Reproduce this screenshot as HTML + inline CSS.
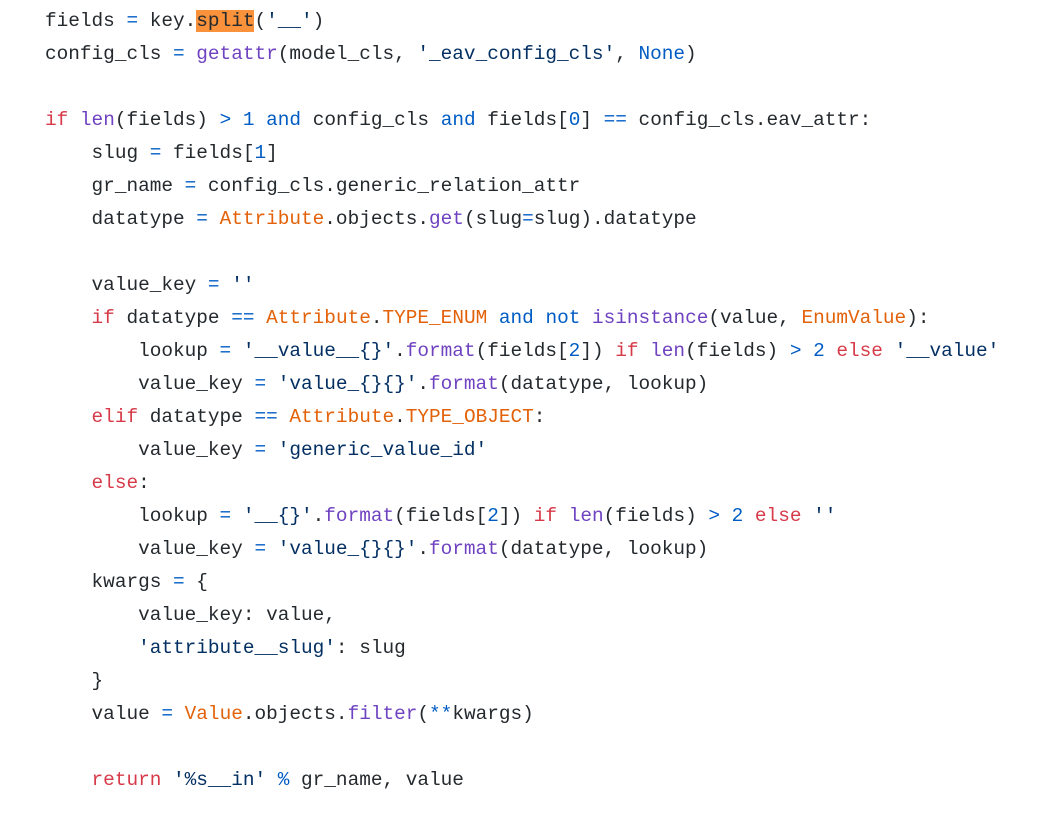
<!DOCTYPE html>
<html><head><meta charset="utf-8"><style>
html,body{margin:0;padding:0;background:#fff;width:1052px;height:817px;overflow:hidden}
pre{margin:0;position:absolute;left:45px;top:4.5px;font-family:"Liberation Mono",monospace;font-size:19.4px;line-height:33px;color:#24292e}
.k{color:#d73a49}.f{color:#6f42c1}.n{color:#005cc5}.c{color:#e36209}.s{color:#032f62}
.h{background:#f9923a;color:#24292e}
</style></head><body>
<pre>fields <span class="n">=</span> key.<span class="h">split</span>(<span class="s">'__'</span>)
config_cls <span class="n">=</span> <span class="f">getattr</span>(model_cls, <span class="s">'_eav_config_cls'</span>, <span class="n">None</span>)

<span class="k">if</span> <span class="f">len</span>(fields) <span class="n">&gt;</span> <span class="n">1</span> <span class="n">and</span> config_cls <span class="n">and</span> fields[<span class="n">0</span>] <span class="n">==</span> config_cls.eav_attr:
    slug <span class="n">=</span> fields[<span class="n">1</span>]
    gr_name <span class="n">=</span> config_cls.generic_relation_attr
    datatype <span class="n">=</span> <span class="c">Attribute</span>.objects.<span class="f">get</span>(slug<span class="n">=</span>slug).datatype

    value_key <span class="n">=</span> <span class="s">''</span>
    <span class="k">if</span> datatype <span class="n">==</span> <span class="c">Attribute</span>.<span class="c">TYPE_ENUM</span> <span class="n">and</span> <span class="n">not</span> <span class="f">isinstance</span>(value, <span class="c">EnumValue</span>):
        lookup <span class="n">=</span> <span class="s">'__value__{}'</span>.<span class="f">format</span>(fields[<span class="n">2</span>]) <span class="k">if</span> <span class="f">len</span>(fields) <span class="n">&gt;</span> <span class="n">2</span> <span class="k">else</span> <span class="s">'__value'</span>
        value_key <span class="n">=</span> <span class="s">'value_{}{}'</span>.<span class="f">format</span>(datatype, lookup)
    <span class="k">elif</span> datatype <span class="n">==</span> <span class="c">Attribute</span>.<span class="c">TYPE_OBJECT</span>:
        value_key <span class="n">=</span> <span class="s">'generic_value_id'</span>
    <span class="k">else</span>:
        lookup <span class="n">=</span> <span class="s">'__{}'</span>.<span class="f">format</span>(fields[<span class="n">2</span>]) <span class="k">if</span> <span class="f">len</span>(fields) <span class="n">&gt;</span> <span class="n">2</span> <span class="k">else</span> <span class="s">''</span>
        value_key <span class="n">=</span> <span class="s">'value_{}{}'</span>.<span class="f">format</span>(datatype, lookup)
    kwargs <span class="n">=</span> {
        value_key: value,
        <span class="s">'attribute__slug'</span>: slug
    }
    value <span class="n">=</span> <span class="c">Value</span>.objects.<span class="f">filter</span>(<span class="n">**</span>kwargs)

    <span class="k">return</span> <span class="s">'%s__in'</span> <span class="n">%</span> gr_name, value</pre>
</body></html>
